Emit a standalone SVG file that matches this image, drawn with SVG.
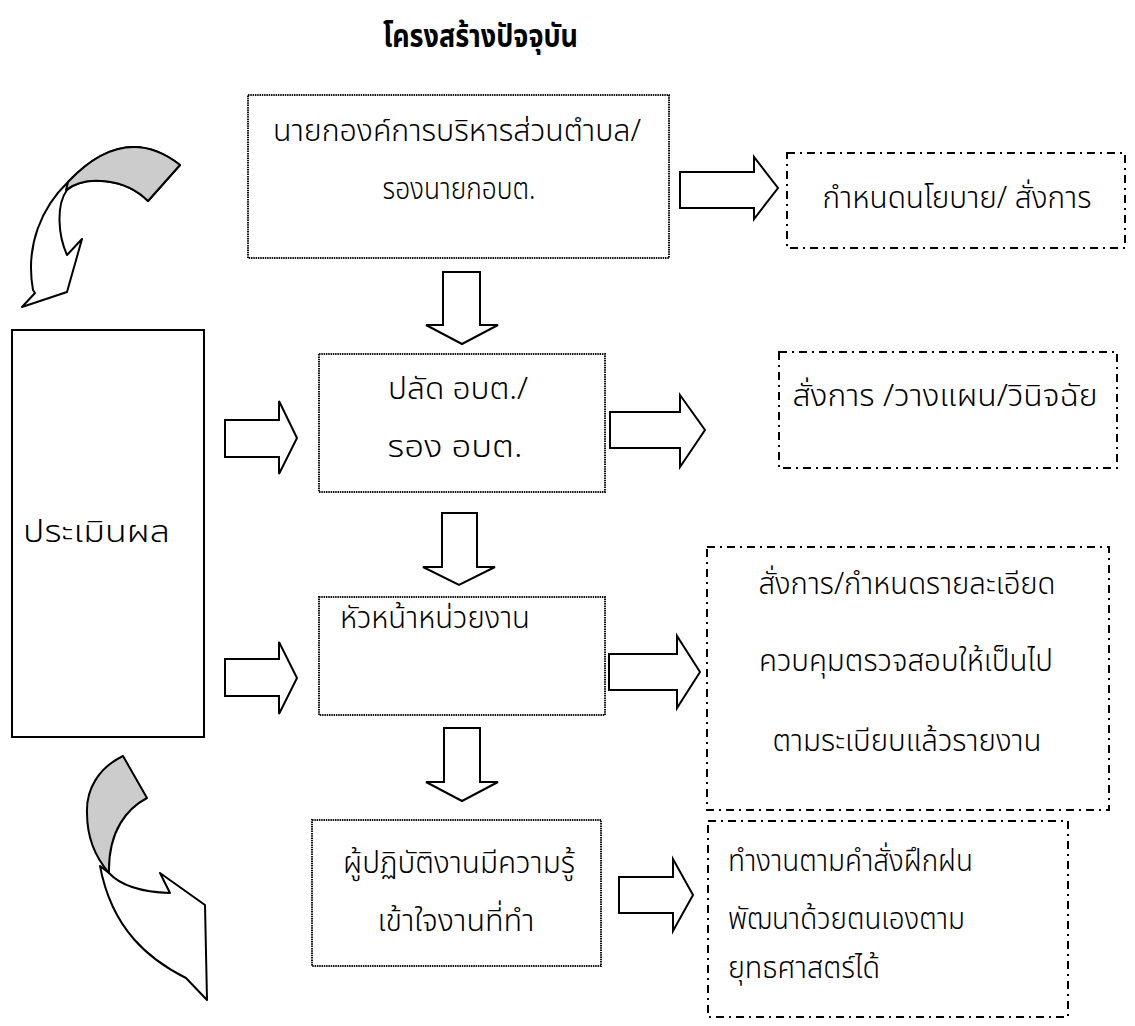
<svg xmlns="http://www.w3.org/2000/svg" width="1135" height="1026" viewBox="0 0 1135 1026">
<style>
  .bg{fill:#fff}
  .solid{fill:#fff;stroke:#000;stroke-width:2}
  .dotted{fill:#fff;stroke:#111;stroke-width:2;stroke-dasharray:1.5 0.8}
  .dashdot{fill:none;stroke:#000;stroke-width:2;stroke-dasharray:8 5 2 5}
  .arrow{fill:#fff;stroke:#000;stroke-width:2;stroke-linejoin:miter}
  .gray{fill:#cccccc;stroke:#000;stroke-width:2;stroke-linejoin:round}
  .curve{fill:#fff;stroke:#000;stroke-width:2;stroke-linejoin:round}
  text{font-family:"Noto Sans Thai","Noto Sans Thai Looped","Noto Sans","DejaVu Sans",sans-serif;font-size:31px;font-weight:300;fill:#000}
  .title{font-size:32px;font-weight:bold}
  .c{text-anchor:middle}
</style>
<rect class="bg" x="0" y="0" width="1135" height="1026"/>

<text class="title" x="383" y="47" textLength="195" lengthAdjust="spacingAndGlyphs">โครงสร้างปัจจุบัน</text>

<g id="connectors">
  <!-- down arrows -->
  <polygon class="arrow" points="443,272 480,272 480,325 498,325 462,344 426,325 443,325"/>
  <polygon class="arrow" points="442,513 477,513 477,567 495,567 459,585 423,567 442,567"/>
  <polygon class="arrow" points="444,728 480,728 480,782 498,782 462,801 426,782 444,782"/>
  <!-- right arrows -->
  <polygon class="arrow" points="680,172 754,172 754,157 778,188 754,219 754,208 680,208"/>
  <polygon class="arrow" points="610,412 680,412 680,395 705,430 680,467 680,448 610,448"/>
  <polygon class="arrow" points="609,654 677,654 677,636 700,672 677,708 677,690 609,690"/>
  <polygon class="arrow" points="619,877 673,877 673,859 693,895 673,931 673,913 619,913"/>
  <!-- from evaluation box -->
  <polygon class="arrow" points="225,420 279,420 279,401 297,438 279,474 279,457 225,457"/>
  <polygon class="arrow" points="225,659 279,659 279,642 297,678 279,714 279,696 225,696"/>
  <!-- curved arrow top-left -->
  <path class="curve" d="M180,165 Q125,122 68,182 C42,207 25,245 33,290 L35,293 L22,307 L67,292 L82,239 L67,255 C58,235 56,205 67,190 C85,175 125,178 148,201 Z"/>
  <path class="gray" d="M180,165 Q125,122 68,182 L66,190 C85,175 125,178 148,201 Z"/>
  <!-- curved arrow bottom-left -->
  <path class="curve" d="M109,873 C120,885 140,892 170,893 L160,873 L205,905 L207,1000 L186,978 C150,960 112,930 100,866 Z"/>
  <path class="gray" d="M123,756 L147,798 C128,808 108,830 109,873 C96,858 87,838 87,813 C86,790 98,768 123,756 Z"/>
</g>

<g id="n-mayor">
  <rect class="dotted" x="248" y="95" width="421" height="163"/>
  <text class="c" x="457" y="141" textLength="368" lengthAdjust="spacingAndGlyphs">นายกองค์การบริหารส่วนตำบล/</text>
  <text class="c" x="459" y="199" textLength="153" lengthAdjust="spacingAndGlyphs">รองนายกอบต.</text>
</g>
<g id="n-policy">
  <rect class="dashdot" x="787" y="153" width="338" height="95"/>
  <text class="c" x="957" y="208" textLength="269" lengthAdjust="spacingAndGlyphs">กำหนดนโยบาย/ สั่งการ</text>
</g>
<g id="n-clerk">
  <rect class="dotted" x="319" y="354" width="286" height="138"/>
  <text class="c" x="458" y="399" textLength="140" lengthAdjust="spacingAndGlyphs">ปลัด อบต./</text>
  <text class="c" x="455" y="457" textLength="135" lengthAdjust="spacingAndGlyphs">รอง อบต.</text>
</g>
<g id="n-command">
  <rect class="dashdot" x="779" y="352" width="338" height="116"/>
  <text class="c" x="945" y="406" textLength="305" lengthAdjust="spacingAndGlyphs">สั่งการ /วางแผน/วินิจฉัย</text>
</g>
<g id="n-eval">
  <rect class="solid" x="12" y="330" width="192" height="407"/>
  <text x="23" y="542" textLength="147" lengthAdjust="spacingAndGlyphs">ประเมินผล</text>
</g>
<g id="n-head">
  <rect class="dotted" x="319" y="597" width="286" height="118"/>
  <text x="340" y="628" textLength="190" lengthAdjust="spacingAndGlyphs">หัวหน้าหน่วยงาน</text>
</g>
<g id="n-detail">
  <rect class="dashdot" x="707" y="547" width="402" height="263"/>
  <text class="c" x="907" y="594" textLength="297" lengthAdjust="spacingAndGlyphs">สั่งการ/กำหนดรายละเอียด</text>
  <text class="c" x="906" y="671" textLength="294" lengthAdjust="spacingAndGlyphs">ควบคุมตรวจสอบให้เป็นไป</text>
  <text class="c" x="907" y="751" textLength="269" lengthAdjust="spacingAndGlyphs">ตามระเบียบแล้วรายงาน</text>
</g>
<g id="n-staff">
  <rect class="dotted" x="312" y="820" width="289" height="146"/>
  <text class="c" x="459" y="873" textLength="232" lengthAdjust="spacingAndGlyphs">ผู้ปฏิบัติงานมีความรู้</text>
  <text class="c" x="456" y="931" textLength="157" lengthAdjust="spacingAndGlyphs">เข้าใจงานที่ทำ</text>
</g>
<g id="n-work">
  <rect class="dashdot" x="708" y="821" width="360" height="196"/>
  <text x="728" y="871" textLength="245" lengthAdjust="spacingAndGlyphs">ทำงานตามคำสั่งฝึกฝน</text>
  <text x="728" y="929" textLength="237" lengthAdjust="spacingAndGlyphs">พัฒนาด้วยตนเองตาม</text>
  <text x="728" y="978" textLength="152" lengthAdjust="spacingAndGlyphs">ยุทธศาสตร์ได้</text>
</g>
</svg>
